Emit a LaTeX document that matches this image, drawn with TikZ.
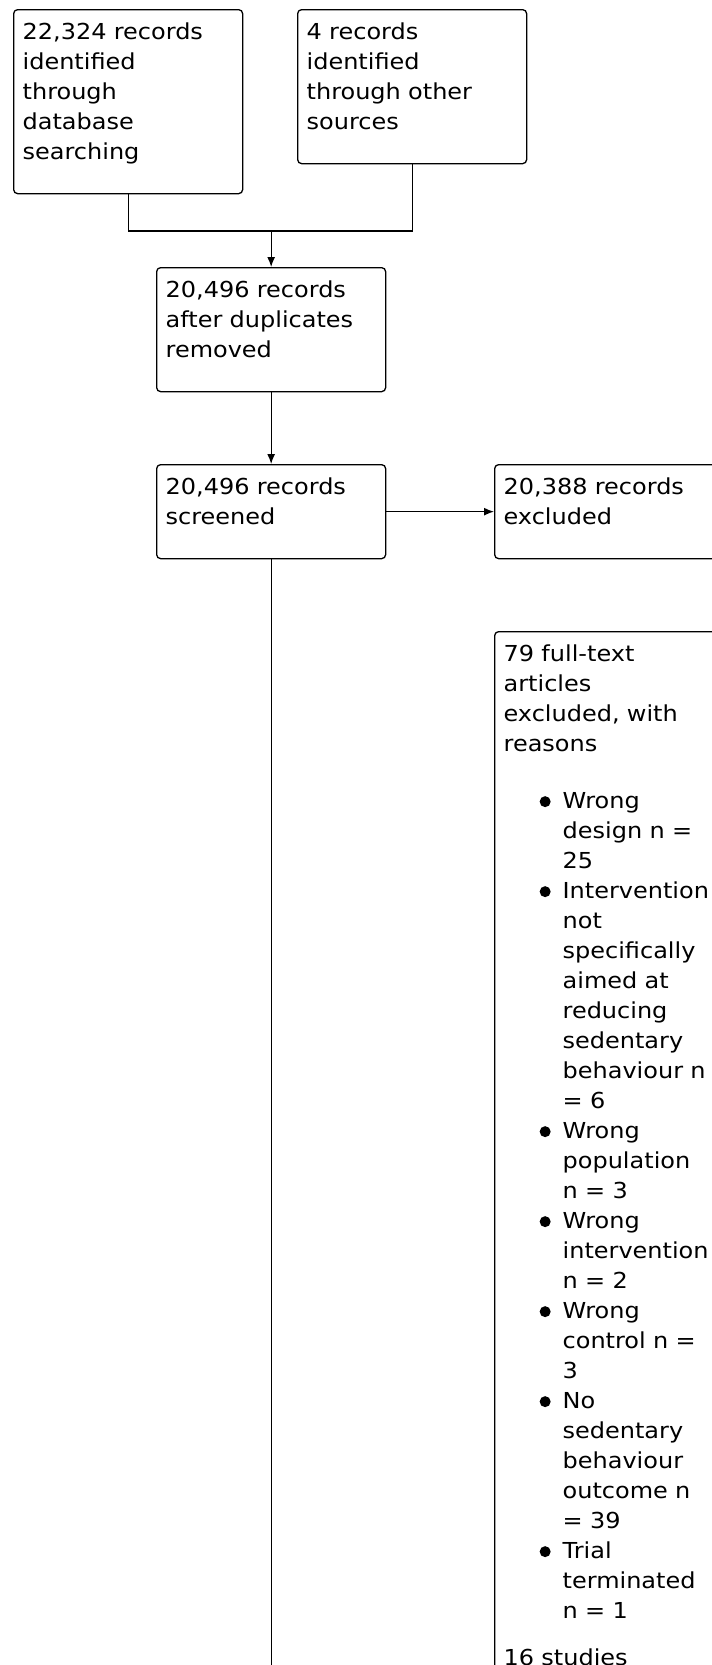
\documentclass[tikz,border=0pt]{standalone}
\usepackage{fontspec}
\setmainfont{DejaVu Sans}[FakeStretch=1.09]
\usepackage{tikz}
\usetikzlibrary{arrows.meta,calc}

\setlength{\parindent}{0pt}
\newcommand{\firstline}{\rule{0pt}{30pt}}
\newcommand{\lastline}{\rule[-34pt]{0pt}{34pt}}
\newcommand{\bulletdot}{\tikz[baseline=0pt]\fill (5.5pt,7pt) circle (5.5pt);}
\newcommand{\reason}[1]{\par\hangindent=59pt\hangafter=0\leavevmode
  \llap{\makebox[23pt][l]{\bulletdot}}#1\par}

\begin{document}
\begin{tikzpicture}[x=1pt,y=1pt,
  flowbox/.style={draw,line width=1.3pt,rounded corners=4pt,anchor=north west,
    text width=211pt,inner xsep=9pt,inner ysep=0pt,align=left,
    font=\fontsize{22pt}{30pt}\selectfont},
  arr/.style={line width=1.3pt,-{Latex[length=10pt,width=8pt]}}]
\useasboundingbox (0,0) rectangle (712,-1665);
\clip (0,0) rectangle (712,-1665);
% identification
\node[flowbox] (dbsearch) at (13,-9) {\firstline 22,324 records\\identified\\through\\database\\searching\lastline};
\node[flowbox] (othersrc) at (297,-9) {\firstline 4 records\\identified\\through other\\sources\lastline};
% screening
\node[flowbox] (dedup) at (156,-267) {\firstline 20,496 records\\after duplicates\\removed\lastline};
\node[flowbox] (screened) at (156,-464) {\firstline 20,496 records\\screened\lastline};
\node[flowbox] (excl) at (494,-464) {\firstline 20,388 records\\excluded\lastline};
% eligibility
\node[flowbox] (fulltext) at (494,-631) {\firstline 79 full-text\\articles\\excluded, with\\reasons\par\vspace{27pt}
\reason{Wrong\newline design n =\newline 25}
\reason{Intervention\newline not\newline specifically\newline aimed at\newline reducing\newline sedentary\newline behaviour n\newline = 6}
\reason{Wrong\newline population\newline n = 3}
\reason{Wrong\newline intervention\newline n = 2}
\reason{Wrong\newline control n =\newline 3}
\reason{No\newline sedentary\newline behaviour\newline outcome n\newline = 39}
\reason{Trial\newline terminated\newline n = 1}
\vspace{17pt}
16 studies\rule[-80pt]{0pt}{80pt}};
% connectors
\coordinate (join) at (dedup.north |- 0,-231);
\coordinate (down) at (screened.south |- 0,-1700);
\draw[line width=1.3pt] (dbsearch.south) |- (join) -| (othersrc.south);
\draw[arr] (join) -- (dedup);
\draw[arr] (dedup) -- (screened);
\draw[arr] (screened) -- (excl);
\draw[line width=1.3pt] (screened.south) -- (down);
\end{tikzpicture}
\end{document}
